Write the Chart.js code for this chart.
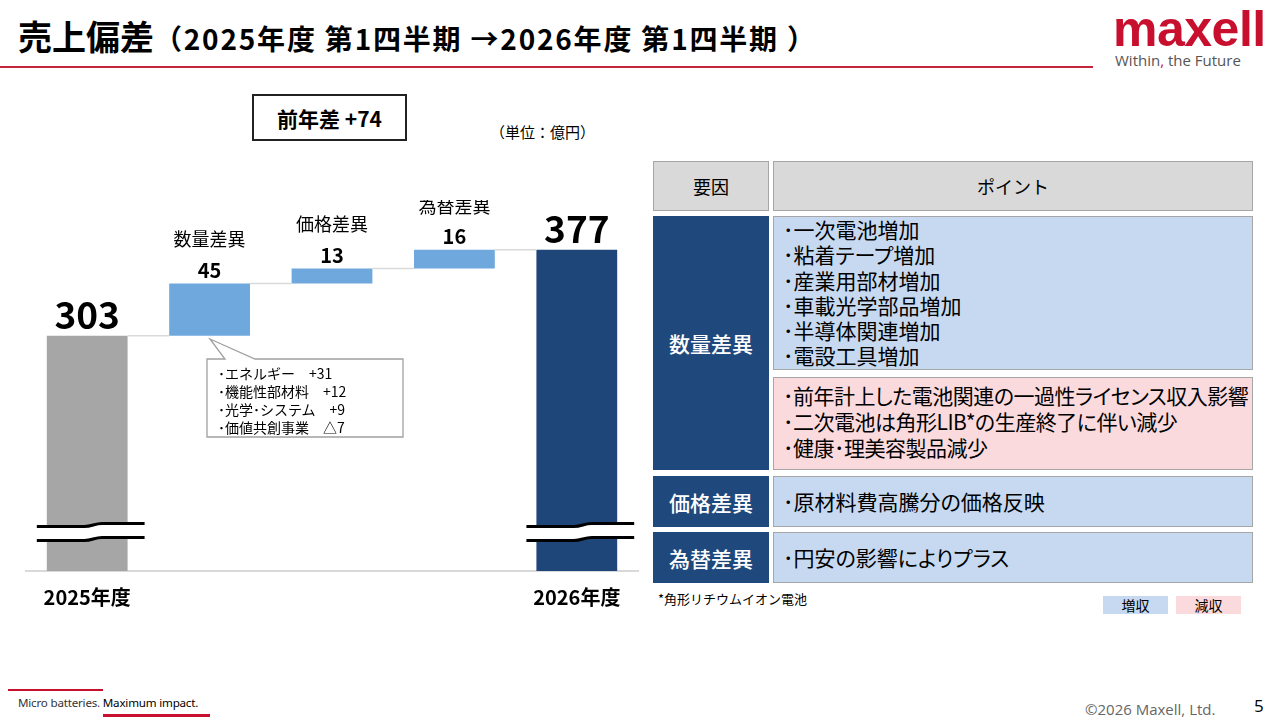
<!DOCTYPE html>
<html lang="ja">
<head>
<meta charset="utf-8">
<title>売上偏差</title>
<script src="https://cdn.jsdelivr.net/npm/chart.js@4.4.1/dist/chart.umd.min.js"></script>
<style>
  body { margin:0; width:1280px; height:720px; position:relative; overflow:hidden; background:#fff;
         font-family:"Noto Sans CJK JP","Noto Sans",sans-serif; color:#000; }
  .abs { position:absolute; }
  .title { left:18px; top:14px; line-height:44px; font-weight:bold; white-space:nowrap; }
  .title .big { font-size:34px; }
  .title .small { font-size:28px; letter-spacing:1.8px; }
  .cell { position:absolute; box-sizing:border-box; border:1.5px solid #a6a6a6; }
  .head { background:#d9d9d9; font-size:18px; display:flex; align-items:center; justify-content:center; }
  .navy { background:#1f497d; border-color:#1f497d; color:#fff; font-size:21px; font-weight:500;
          display:flex; align-items:center; justify-content:center; }
  .blue { background:#c6d9f0; }
  .pink { background:#fadadd; }
  .pts { font-size:21px; line-height:25.3px; padding-left:9px; white-space:pre; font-feature-settings:"palt"; }
</style>
</head>
<body>
<div class="abs title"><span class="big">売上偏差</span><span class="small">（2025年度 第1四半期 →2026年度 第1四半期 ）</span></div>
<div class="abs" style="left:0;top:66px;width:1093px;height:2px;background:#c3263a"></div>
<div class="abs" style="left:1113px;top:4px;font-family:'Liberation Sans',Arial,sans-serif;font-weight:bold;font-size:50px;line-height:50px;color:#c8102e;letter-spacing:-0.5px">maxell</div>
<div class="abs" style="left:1115px;top:50px;font-family:'Open Sans',sans-serif;font-size:15px;line-height:20px;color:#555">Within<span style="color:#c8102e">,</span>&nbsp;the Future</div>

<div class="abs" style="left:252px;top:94px;width:155px;height:47px;box-sizing:border-box;border:2px solid #222;font-weight:bold;font-size:21px;display:flex;align-items:center;justify-content:center">前年差 +74</div>
<div class="abs" style="left:490px;top:122px;font-size:15px;line-height:20px">（単位：億円）</div>

<div class="abs" style="left:0;top:200px;width:650px;height:424px"><canvas id="chart"></canvas></div>

<svg class="abs" style="left:0;top:0" width="640" height="460">
  <path d="M207 359 L225 359 L210 339 L255 359 L403 359 L403 437 L207 437 Z" fill="#fff" stroke="#a0a0a0" stroke-width="1.3"/>
</svg>
<div class="abs" style="left:218px;top:364px;font-size:14px;line-height:18px;white-space:pre">･エネルギー　+31
･機能性部材料　+12
･光学･システム　+9
･価値共創事業　△7</div>

<!-- 表 -->
<div class="cell head" style="left:653px;top:161px;width:116px;height:50px">要因</div>
<div class="cell head" style="left:773px;top:161px;width:480px;height:50px">ポイント</div>
<div class="cell navy" style="left:653px;top:216px;width:116px;height:254px">数量差異</div>
<div class="cell blue pts" style="left:773px;top:216px;width:480px;height:154px;padding-top:0">･一次電池増加
･粘着テープ増加
･産業用部材増加
･車載光学部品増加
･半導体関連増加
･電設工具増加</div>
<div class="cell pink pts" style="left:773px;top:377px;width:480px;height:93px;padding-top:4px;line-height:26px;letter-spacing:-0.5px">･前年計上した電池関連の一過性ライセンス収入影響
･二次電池は角形LIB*の生産終了に伴い減少
･健康･理美容製品減少</div>
<div class="cell navy" style="left:653px;top:476px;width:116px;height:51px">価格差異</div>
<div class="cell blue pts" style="left:773px;top:476px;width:480px;height:51px;display:flex;align-items:center">･原材料費高騰分の価格反映</div>
<div class="cell navy" style="left:653px;top:532px;width:116px;height:51px">為替差異</div>
<div class="cell blue pts" style="left:773px;top:532px;width:480px;height:51px;display:flex;align-items:center">･円安の影響によりプラス</div>

<div class="abs" style="left:658px;top:590px;font-size:13px;line-height:18px">*角形リチウムイオン電池</div>
<div class="abs" style="left:1103px;top:596px;width:65px;height:18px;background:#c6d9f0;font-size:14px;line-height:18px;text-align:center">増収</div>
<div class="abs" style="left:1176px;top:596px;width:65px;height:18px;background:#fadadd;font-size:14px;line-height:18px;text-align:center">減収</div>

<div class="abs" style="left:8px;top:689px;width:95px;height:2px;background:#c8102e"></div>
<div class="abs" style="left:18px;top:695px;font-family:'Noto Sans',sans-serif;font-size:11.6px;line-height:16px;color:#333;letter-spacing:-0.2px">Micro batteries. <span style="color:#000">Maximum impact.</span></div>
<div class="abs" style="left:103px;top:714px;width:107px;height:3px;background:#c8102e"></div>
<div class="abs" style="left:1085px;top:699px;font-family:'Open Sans',sans-serif;font-size:15px;line-height:20px;color:#666">©2026 Maxell, Ltd.</div>
<div class="abs" style="left:1254px;top:695px;font-family:'Open Sans',sans-serif;font-size:17px;line-height:22px;color:#000">5</div>

<script>
const categories = ['2025年度', '数量差異', '価格差異', '為替差異', '2026年度'];
const axisLabels = ['2025年度', '', '', '', '2026年度'];
const startValue = 303;
const endValue = 377;
const deltaValues = [45, 13, 16];
// 軸は途中を省略しているので下端は100から
const axisMin = 100;
const axisMax = 420;

const barColors = ['#a6a6a6', '#6fa8dc', '#6fa8dc', '#6fa8dc', '#1f4678'];

// ウォーターフォールの各棒の範囲
const ranges = [[axisMin, startValue]];
let running = startValue;
deltaValues.forEach(d => {
  ranges.push([running, running + d]);
  running += d;
});
ranges.push([axisMin, endValue]);

const FONT = '"Noto Sans CJK JP", "Noto Sans", sans-serif';

const waterfallDeco = {
  id: 'waterfallDeco',
  afterDatasetsDraw(chart) {
    const { ctx, scales: { y } } = chart;
    const bars = chart.getDatasetMeta(0).data;
    const last = bars.length - 1;
    ctx.save();

    // 棒の間をつなぐ線
    ctx.strokeStyle = '#d9d9d9';
    ctx.lineWidth = 1.5;
    for (let i = 0; i < last; i++) {
      const yy = y.getPixelForValue(ranges[i][1]);
      ctx.beginPath();
      ctx.moveTo(bars[i].x + bars[i].width / 2, yy);
      ctx.lineTo(bars[i + 1].x - bars[i + 1].width / 2, yy);
      ctx.stroke();
    }

    // 数値ラベル
    ctx.textAlign = 'center';
    ctx.textBaseline = 'middle';
    ctx.fillStyle = '#000';
    bars.forEach((bar, i) => {
      const top = y.getPixelForValue(ranges[i][1]);
      if (i === 0 || i === last) {
        ctx.font = 'bold 37px ' + FONT;
        ctx.fillText(String(i === 0 ? startValue : endValue), bar.x, top - 21);
      } else {
        ctx.font = 'bold 20px ' + FONT;
        ctx.fillText(String(deltaValues[i - 1]), bar.x, top - 13);
        ctx.font = '18px ' + FONT;
        ctx.fillText(categories[i], bar.x, top - 44);
      }
    });

    // 省略の波線
    [0, last].forEach(i => {
      const bar = bars[i];
      const left = bar.x - bar.width / 2 - 10;
      const right = bar.x + bar.width / 2 + 17;
      const mid = bar.x + 6;
      const wave = (yb) => [
        [left, yb + 1.5], [mid - 9, yb + 1.5], [mid + 9, yb - 1.5], [right, yb - 1.5]
      ];
      const upper = wave(y.bottom - 46);
      const lower = wave(y.bottom - 32);
      const trace = (pts) => {
        ctx.moveTo(pts[0][0], pts[0][1]);
        ctx.lineTo(pts[1][0], pts[1][1]);
        ctx.bezierCurveTo(pts[1][0] + 8, pts[1][1], pts[2][0] - 8, pts[2][1], pts[2][0], pts[2][1]);
        ctx.lineTo(pts[3][0], pts[3][1]);
      };
      ctx.fillStyle = '#fff';
      ctx.beginPath();
      trace(upper);
      ctx.lineTo(lower[3][0], lower[3][1]);
      ctx.lineTo(lower[2][0], lower[2][1]);
      ctx.bezierCurveTo(lower[2][0] - 8, lower[2][1], lower[1][0] + 8, lower[1][1], lower[1][0], lower[1][1]);
      ctx.lineTo(lower[0][0], lower[0][1]);
      ctx.closePath();
      ctx.fill();
      ctx.strokeStyle = '#000';
      ctx.lineWidth = 3;
      [upper, lower].forEach(p => {
        ctx.beginPath();
        trace(p);
        ctx.stroke();
      });
    });
    ctx.restore();
  }
};

new Chart(document.getElementById('chart'), {
  type: 'bar',
  data: {
    labels: axisLabels,
    datasets: [{
      data: ranges,
      backgroundColor: barColors,
      borderWidth: 0,
      barPercentage: 0.66,
      categoryPercentage: 1
    }]
  },
  options: {
    responsive: true,
    maintainAspectRatio: false,
    animation: false,
    layout: { padding: { left: 26, right: 12, top: 0, bottom: 1 } },
    plugins: {
      legend: { display: false },
      tooltip: { enabled: false }
    },
    scales: {
      x: {
        grid: { display: false, drawTicks: false },
        border: { display: true, color: '#d9d9d9', width: 2 },
        ticks: {
          autoSkip: false,
          maxRotation: 0,
          padding: 14,
          color: '#000',
          font: { family: FONT, size: 20, weight: 'bold' }
        }
      },
      y: {
        display: false,
        min: axisMin,
        max: axisMax
      }
    }
  },
  plugins: [waterfallDeco]
});
</script>
</body>
</html>
